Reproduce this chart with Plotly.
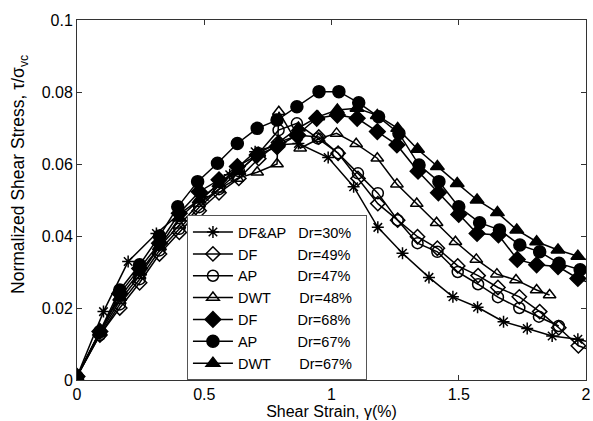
import plotly.graph_objects as go

# ---- data ----
x_dfap30 = [0, 0.104, 0.201, 0.312, 0.40, 0.50, 0.60, 0.70, 0.786, 0.87, 0.987, 1.087, 1.182, 1.279, 1.383, 1.477, 1.574, 1.676, 1.769, 1.867, 1.968, 2.06]
y_dfap30 = [0.001, 0.019, 0.0329, 0.0407, 0.046, 0.051, 0.057, 0.0634, 0.0653, 0.0657, 0.0618, 0.0537, 0.0424, 0.0352, 0.0285, 0.0231, 0.0202, 0.0162, 0.0143, 0.0122, 0.0113, 0.0098]

x_df49 = [0, 0.09, 0.168, 0.246, 0.324, 0.402, 0.48, 0.558, 0.636, 0.714, 0.792, 0.87, 0.95, 1.026, 1.104, 1.182, 1.26, 1.338, 1.416, 1.496, 1.576, 1.654, 1.738, 1.818, 1.893, 1.97, 2.05]
y_df49 = [0.001, 0.0125, 0.020, 0.027, 0.035, 0.041, 0.047, 0.052, 0.056, 0.0615, 0.066, 0.068, 0.0675, 0.063, 0.056, 0.049, 0.0444, 0.0398, 0.0366, 0.0317, 0.029, 0.0257, 0.0231, 0.019, 0.0145, 0.0095, 0.0075]

x_ap47 = [0, 0.09, 0.168, 0.246, 0.324, 0.402, 0.48, 0.558, 0.636, 0.714, 0.792, 0.864, 0.946, 1.026, 1.104, 1.182, 1.26, 1.338, 1.416, 1.496, 1.576, 1.654, 1.738, 1.815, 1.893]
y_ap47 = [0.001, 0.0125, 0.021, 0.028, 0.036, 0.042, 0.048, 0.053, 0.058, 0.063, 0.0694, 0.0713, 0.0671, 0.063, 0.0574, 0.0519, 0.0444, 0.038, 0.0356, 0.030, 0.0266, 0.023, 0.020, 0.0176, 0.015]

x_dwt48 = [0, 0.09, 0.168, 0.246, 0.324, 0.402, 0.48, 0.558, 0.63, 0.708, 0.786, 0.793, 0.877, 0.95, 1.02, 1.097, 1.18, 1.257, 1.335, 1.413, 1.487, 1.569, 1.65, 1.725, 1.806, 1.857]
y_dwt48 = [0.001, 0.013, 0.022, 0.029, 0.037, 0.043, 0.049, 0.053, 0.056, 0.0577, 0.060, 0.0745, 0.0644, 0.067, 0.0685, 0.0656, 0.0616, 0.0544, 0.049, 0.0437, 0.0384, 0.0335, 0.0294, 0.0278, 0.025, 0.0236]

x_df68 = [0, 0.09, 0.168, 0.246, 0.324, 0.402, 0.48, 0.558, 0.63, 0.708, 0.786, 0.864, 0.942, 1.023, 1.101, 1.18, 1.257, 1.34, 1.42, 1.50, 1.572, 1.656, 1.73, 1.806, 1.89, 1.968, 2.05]
y_df68 = [0.001, 0.0135, 0.024, 0.031, 0.038, 0.0463, 0.0523, 0.0556, 0.0593, 0.0625, 0.0648, 0.068, 0.0727, 0.0736, 0.0727, 0.069, 0.0653, 0.058, 0.052, 0.046, 0.0407, 0.0403, 0.0335, 0.032, 0.0315, 0.0282, 0.026]

x_ap67 = [0, 0.09, 0.168, 0.246, 0.324, 0.396, 0.474, 0.552, 0.63, 0.708, 0.786, 0.864, 0.951, 1.029, 1.107, 1.185, 1.265, 1.344, 1.422, 1.50, 1.582, 1.66, 1.74, 1.818, 1.894, 1.977, 2.06]
y_ap67 = [0.001, 0.0135, 0.025, 0.032, 0.040, 0.0481, 0.0551, 0.0602, 0.0657, 0.0699, 0.0722, 0.0759, 0.0801, 0.0801, 0.077, 0.0731, 0.0685, 0.0597, 0.0551, 0.0481, 0.0437, 0.0417, 0.0375, 0.0356, 0.0324, 0.0306, 0.029]

x_dwt67 = [0, 0.09, 0.168, 0.246, 0.324, 0.402, 0.48, 0.558, 0.636, 0.714, 0.792, 0.87, 0.946, 1.023, 1.10, 1.18, 1.26, 1.338, 1.416, 1.494, 1.572, 1.652, 1.728, 1.806, 1.89, 1.968, 2.05]
y_dwt67 = [0.001, 0.0135, 0.023, 0.030, 0.037, 0.045, 0.050, 0.0545, 0.058, 0.063, 0.066, 0.070, 0.0731, 0.075, 0.0755, 0.0735, 0.0699, 0.0641, 0.0593, 0.0546, 0.050, 0.0465, 0.0417, 0.0384, 0.0361, 0.0344, 0.032]

x_ticks = [0, 0.5, 1, 1.5, 2]
x_ticklabels = ["0", "0.5", "1", "1.5", "2"]
y_ticks = [0, 0.02, 0.04, 0.06, 0.08, 0.1]
y_ticklabels = ["0", "0.02", "0.04", "0.06", "0.08", "0.1"]

NB = "\u00a0"
names = ["DF&amp;AP" + NB * 3 + "Dr=30%" + NB * 2,
         "DF" + NB * 10 + "Dr=49%" + NB * 2,
         "AP" + NB * 10 + "Dr=47%" + NB * 2,
         "DWT" + NB * 7 + "Dr=48%" + NB * 2,
         "DF" + NB * 10 + "Dr=68%" + NB * 2,
         "AP" + NB * 10 + "Dr=67%" + NB * 2,
         "DWT" + NB * 7 + "Dr=67%" + NB * 2]

series = [
    (x_dfap30, y_dfap30, "asterisk-open", 10),
    (x_df49, y_df49, "diamond-open", 11),
    (x_ap47, y_ap47, "circle-open", 11),
    (x_dwt48, y_dwt48, "triangle-up-open", 11),
    (x_df68, y_df68, "diamond", 12),
    (x_ap67, y_ap67, "circle", 12),
    (x_dwt67, y_dwt67, "triangle-up", 12),
]

fig = go.Figure()
for (xs, ys, sym, sz), nm in zip(series, names):
    fig.add_trace(go.Scatter(
        x=xs, y=ys, mode="lines+markers", name=nm,
        line=dict(color="black", width=1.5),
        marker=dict(symbol=sym, size=sz, color="black",
                    line=dict(color="black", width=1.5)),
    ))

FAM = "Liberation Sans, Arial, sans-serif"

fig.update_layout(
    width=593, height=421,
    margin=dict(l=77, r=2, t=20, b=41),
    paper_bgcolor="white", plot_bgcolor="white",
    font=dict(family=FAM, size=15, color="black"),
    showlegend=True,
    legend=dict(
        x=0.216, y=0.458, xanchor="left", yanchor="top",
        bgcolor="white", bordercolor="#555", borderwidth=1,
        font=dict(family=FAM, size=14.5, color="black"),
        itemwidth=40,
    ),
    xaxis=dict(
        range=[0, 2], tickvals=x_ticks, ticktext=x_ticklabels,
        tickfont=dict(family=FAM, size=16, color="black"),
        ticklabeloverflow="allow",
        ticks="inside", ticklen=5, tickcolor="#333", showline=True, linecolor="#333",
        linewidth=1, mirror="ticks", showgrid=False, zeroline=False,
        title=dict(text="Shear Strain, γ(%)", standoff=3,
                   font=dict(family=FAM, size=16, color="black")),
    ),
    yaxis=dict(
        range=[0, 0.1], tickvals=y_ticks, ticktext=y_ticklabels,
        tickfont=dict(family=FAM, size=16, color="black"),
        ticklabeloverflow="allow",
        ticks="inside", ticklen=5, tickcolor="#333", showline=True, linecolor="#333",
        linewidth=1, mirror="ticks", showgrid=False, zeroline=False,
    ),
    annotations=[dict(
        text="Normalized Shear Stress, τ/σ<sub>vc</sub>",
        xref="paper", yref="paper", x=-0.113, y=0.571,
        xanchor="center", yanchor="middle", textangle=-90, showarrow=False,
        font=dict(family=FAM, size=17.5, color="black"),
    )],
)

fig.write_html("out.html")
